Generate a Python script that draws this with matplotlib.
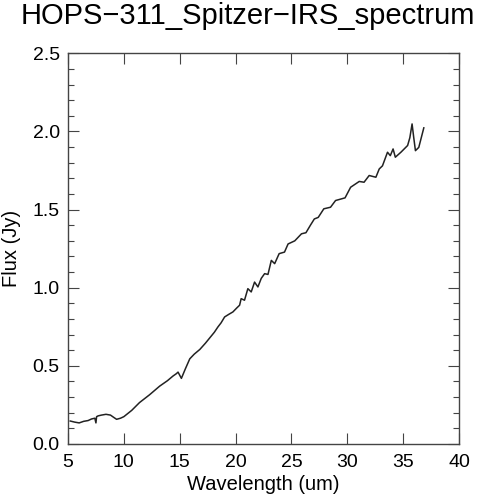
import matplotlib
matplotlib.use("Agg")
import matplotlib.pyplot as plt
from matplotlib.ticker import MultipleLocator

wavelength = [5.2, 5.6, 6.0, 6.4, 6.8, 7.1, 7.4, 7.5, 7.56, 7.7, 8.0, 8.4, 8.8, 9.1, 9.35, 9.7,
              10.0, 10.7, 11.4, 12.3, 13.2, 13.9, 14.4, 14.7, 14.85, 15.0, 15.15, 15.5,
              15.9, 16.3, 16.8, 17.3, 17.7, 18.1, 18.42, 18.7, 19.02, 19.4, 19.76, 20.1,
              20.36, 20.5, 20.8, 21.1, 21.4, 21.7, 22.0, 22.3, 22.6, 22.9, 23.2, 23.5,
              23.9, 24.38, 24.7, 25.3, 25.9, 26.3, 26.7, 27.05, 27.4, 27.9, 28.5, 28.95,
              29.5, 29.8, 30.3, 31.07, 31.5, 31.96, 32.56, 32.86, 33.15, 33.6, 33.85,
              34.1, 34.3, 34.8, 35.4, 35.6, 35.8, 35.95, 36.1, 36.4, 36.85]
flux = [0.147, 0.140, 0.135, 0.145, 0.150, 0.160, 0.165, 0.135, 0.175, 0.180, 0.185, 0.190,
        0.185, 0.170, 0.158, 0.165, 0.175, 0.215, 0.265, 0.315, 0.370, 0.405, 0.435, 0.450,
        0.460, 0.440, 0.420, 0.480, 0.545, 0.575, 0.605, 0.645, 0.680, 0.715, 0.749, 0.775,
        0.813, 0.830, 0.845, 0.870, 0.888, 0.930, 0.920, 0.994, 0.973, 1.036, 1.005, 1.060,
        1.090, 1.085, 1.175, 1.154, 1.218, 1.228, 1.280, 1.300, 1.345, 1.352, 1.400, 1.440,
        1.450, 1.505, 1.515, 1.558, 1.569, 1.575, 1.643, 1.680, 1.675, 1.718, 1.707, 1.760,
        1.780, 1.867, 1.845, 1.888, 1.835, 1.867, 1.910, 1.960, 2.048, 1.960, 1.877, 1.898,
        2.023]

title = "HOPS\u2212311_Spitzer\u2212IRS_spectrum"
xlabel = "Wavelength (um)"
ylabel = "Flux (Jy)"

plt.rcParams['font.family'] = ['Liberation Sans', 'DejaVu Sans']

fig = plt.figure(figsize=(4.79, 5.0), dpi=100)
ax = fig.add_axes([68/479, 1-444/500, (459-68)/479, (444-53.3)/500])
ax.plot(wavelength, flux, color='#222222', lw=1.1)
ax.set_xlim(5, 40)
ax.set_ylim(0, 2.5)
ax.xaxis.set_major_locator(MultipleLocator(5))
ax.yaxis.set_major_locator(MultipleLocator(0.5))
ax.yaxis.set_minor_locator(MultipleLocator(0.1))
ax.yaxis.set_major_formatter(plt.FuncFormatter(lambda v, p: f"{v:.1f}"))
ax.tick_params(which='both', direction='in', top=True, right=True, color='#444444',
               labelsize=14, pad=6)
ax.tick_params(axis='x', pad=7)
ax.tick_params(which='major', length=8, width=0.8)
ax.tick_params(which='minor', length=4, width=0.8)
for s in ax.spines.values():
    s.set_color('#444444')
    s.set_linewidth(1.0)
ax.set_xlabel(xlabel, fontsize=14.5, labelpad=3)
ax.set_ylabel(ylabel, fontsize=14.5, labelpad=8)
fig.text(248/479, 1-16/500, title, ha='center', va='center', fontsize=21)
fig.savefig("out.png", dpi=100)
